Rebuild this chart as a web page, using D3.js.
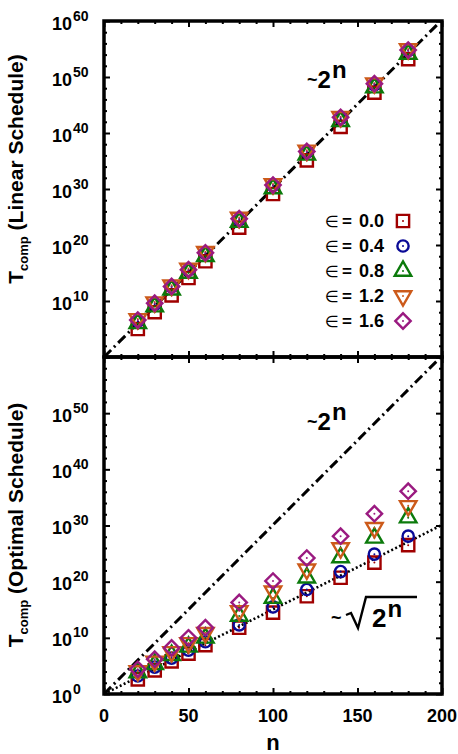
<!doctype html>
<html lang="en">
<head>
<meta charset="utf-8">
<title>T_comp vs n</title>
<script src="https://d3js.org/d3.v7.min.js"></script>
<style>
  body { margin: 0; background: #fff; }
  svg { display: block; font-family: "Liberation Sans", Arial, sans-serif; font-weight: bold; }
</style>
</head>
<body>
<script>
  // problem sizes
  const nValues = [20, 30, 40, 50, 60, 80, 100, 120, 140, 160, 180];
  const epsLabels = ["0.0", "0.4", "0.8", "1.2", "1.6"];

  // log10(T_comp), linear schedule
  const linEps00 = [5.0, 8.0, 11.0, 14.1, 17.1, 23.1, 29.1, 35.1, 41.1, 47.2, 53.2];
  const linEps04 = [6.4, 9.4, 12.5, 15.5, 18.5, 24.5, 30.6, 36.6, 42.6, 48.6, 54.7];
  const linEps08 = [6.0, 9.0, 12.0, 15.0, 18.0, 24.1, 30.1, 36.1, 42.1, 48.1, 54.1];
  const linEps12 = [6.8, 9.8, 12.8, 15.8, 18.8, 24.9, 30.9, 36.9, 42.9, 48.9, 55.0];
  const linEps16 = [6.6, 9.6, 12.6, 15.6, 18.6, 24.7, 30.7, 36.7, 42.8, 48.8, 54.8];

  // log10(T_comp), optimal schedule
  const optEps00 = [2.6, 4.2, 5.8, 7.2, 8.7, 11.8, 14.5, 17.4, 20.7, 23.4, 26.5];
  const optEps04 = [3.2, 4.8, 6.4, 7.8, 9.3, 12.3, 15.5, 18.6, 21.8, 24.9, 28.1];
  const optEps08 = [3.8, 5.3, 6.9, 8.4, 10.0, 13.9, 17.1, 20.7, 24.3, 27.8, 31.4];
  const optEps12 = [4.1, 5.8, 7.5, 9.1, 10.9, 14.8, 18.3, 22.2, 26.0, 29.6, 33.5];
  const optEps16 = [4.4, 6.2, 8.2, 10.0, 11.8, 16.3, 20.1, 24.2, 28.1, 32.1, 36.1];

  const xTicks = [0, 50, 100, 150, 200];
  const topExps = [10, 20, 30, 40, 50, 60];
  const bottomExps = [0, 10, 20, 30, 40, 50];

  const colors = ["#a00000", "#0a0a96", "#0b7a0b", "#cc5a1a", "#9a1a80"];
  const shapes = [
    d3.symbol().type(d3.symbolSquare).size(150),
    d3.symbol().type(d3.symbolCircle).size(100),
    d3.symbol().type(d3.symbolTriangle).size(118),
    d3.symbol().type(d3.symbolTriangle).size(118),
    d3.symbol().type(d3.symbolSquare).size(118)
  ];
  const rotations = [0, 0, 0, 180, 45];

  const width = 458, height = 754;
  const left = 104, right = 442;

  const svg = d3.select("body").append("svg")
      .attr("width", width).attr("height", height);

  const x = d3.scaleLinear().domain([0, 200]).range([left, right]);

  const panels = [
    { y0: 357, y1: 21, exps: topExps, series: [linEps00, linEps04, linEps08, linEps12, linEps16],
      title: "(Linear Schedule)", titleY: 169, sqrtLine: false },
    { y0: 694, y1: 357, exps: bottomExps, series: [optEps00, optEps04, optEps08, optEps12, optEps16],
      title: "(Optimal Schedule)", titleY: 525, sqrtLine: true }
  ];

  function addMarker(g, i, cx, cy) {
    g.append("path")
        .attr("d", shapes[i]())
        .attr("transform", `translate(${cx},${cy}) rotate(${rotations[i]})`)
        .attr("fill", "none")
        .attr("stroke", colors[i])
        .attr("stroke-width", 2.4);
    g.append("circle")
        .attr("cx", cx).attr("cy", cy).attr("r", 1)
        .attr("fill", colors[i]);
  }

  panels.forEach((p, pi) => {
    const y = d3.scaleLog().domain([1, 1e60]).range([p.y0, p.y1]);
    const g = svg.append("g");

    const clipId = "clip" + pi;
    svg.append("clipPath").attr("id", clipId)
      .append("rect")
        .attr("x", left).attr("y", p.y1)
        .attr("width", right - left).attr("height", p.y0 - p.y1);

    // reference curves ~2^n and ~sqrt(2^n)
    const ref = [0, 200];
    const line = d3.line().x(d => x(d[0])).y(d => y(d[1]));
    g.append("path")
        .datum(ref.map(n => [n, Math.pow(2, n)]))
        .attr("d", line)
        .attr("clip-path", `url(#${clipId})`)
        .attr("fill", "none").attr("stroke", "#000")
        .attr("stroke-width", 3)
        .attr("stroke-dasharray", "10,4,2,4");
    if (p.sqrtLine) {
      g.append("path")
          .datum(ref.map(n => [n, Math.pow(2, n / 2)]))
          .attr("d", line)
          .attr("clip-path", `url(#${clipId})`)
          .attr("fill", "none").attr("stroke", "#000")
          .attr("stroke-width", 2.6)
          .attr("stroke-dasharray", "2,2.4");
    }

    // data markers
    p.series.forEach((vals, si) => {
      vals.forEach((v, k) => addMarker(g, si, x(nValues[k]), y(Math.pow(10, v))));
    });

    // ticks on all four sides, pointing inward
    const majorY = d3.range(0, 61, 10).map(e => Math.pow(10, e));
    const minorY = d3.range(0, 61, 2).filter(e => e % 10 !== 0).map(e => Math.pow(10, e));
    const minorX = d3.range(0, 201, 10).filter(v => v % 50 !== 0);
    const tickStyle = sel => {
      sel.select(".domain").remove();
      sel.selectAll("line").attr("stroke", "#000").attr("stroke-width", 2);
    };
    g.append("g").attr("transform", `translate(0,${p.y0})`)
        .call(d3.axisBottom(x).tickValues(xTicks).tickSize(-6).tickFormat("")).call(tickStyle);
    g.append("g").attr("transform", `translate(0,${p.y0})`)
        .call(d3.axisBottom(x).tickValues(minorX).tickSize(-3).tickFormat("")).call(tickStyle);
    g.append("g").attr("transform", `translate(0,${p.y1})`)
        .call(d3.axisTop(x).tickValues(xTicks).tickSize(-6).tickFormat("")).call(tickStyle);
    g.append("g").attr("transform", `translate(0,${p.y1})`)
        .call(d3.axisTop(x).tickValues(minorX).tickSize(-3).tickFormat("")).call(tickStyle);
    g.append("g").attr("transform", `translate(${left},0)`)
        .call(d3.axisLeft(y).tickValues(majorY).tickSize(-6).tickFormat("")).call(tickStyle);
    g.append("g").attr("transform", `translate(${left},0)`)
        .call(d3.axisLeft(y).tickValues(minorY).tickSize(-3).tickFormat("")).call(tickStyle);
    g.append("g").attr("transform", `translate(${right},0)`)
        .call(d3.axisRight(y).tickValues(majorY).tickSize(-6).tickFormat("")).call(tickStyle);
    g.append("g").attr("transform", `translate(${right},0)`)
        .call(d3.axisRight(y).tickValues(minorY).tickSize(-3).tickFormat("")).call(tickStyle);

    // frame
    g.append("rect")
        .attr("x", left).attr("y", p.y1)
        .attr("width", right - left).attr("height", p.y0 - p.y1)
        .attr("fill", "none").attr("stroke", "#000").attr("stroke-width", 3.5);

    // y tick labels 10^k
    p.exps.forEach(e => {
      const t = g.append("text")
          .attr("x", 52).attr("y", y(Math.pow(10, e)) + 8.5)
          .attr("font-size", 18).attr("fill", "#000");
      t.append("tspan").text("10");
      t.append("tspan").attr("font-size", 14).attr("dx", 1).attr("dy", -9).text(e);
    });

    // y axis title
    const yt = g.append("text")
        .attr("transform", `translate(23,${p.titleY}) rotate(-90)`)
        .attr("text-anchor", "middle").attr("font-size", 21).attr("fill", "#000");
    yt.append("tspan").text("T");
    yt.append("tspan").attr("font-size", 13).attr("dy", 5).text("comp");
    yt.append("tspan").attr("dy", -5).text("\u00a0" + p.title);

    // ~2^n annotation
    const a = g.append("text")
        .attr("x", 307).attr("y", p.y1 + (pi === 0 ? 67 : 73)).attr("fill", "#000");
    a.append("tspan").attr("font-size", 18).attr("dy", -2).text("~");
    a.append("tspan").attr("font-size", 24).attr("dy", 2).text("2");
    a.append("tspan").attr("font-size", 24).attr("dy", -10).attr("dx", 1).text("n");

    if (p.sqrtLine) {
      g.append("text").attr("x", 331).attr("y", 624)
          .attr("font-size", 18).attr("fill", "#000").text("~");
      g.append("path")
          .attr("d", "M346,615 L351,613 L358,628 L366,597 L417,597")
          .attr("fill", "none").attr("stroke", "#000").attr("stroke-width", 2.4);
      const s = g.append("text").attr("x", 372).attr("y", 627).attr("fill", "#000");
      s.append("tspan").attr("font-size", 26).text("2");
      s.append("tspan").attr("font-size", 24).attr("dy", -10).attr("dx", 1).text("n");
    }
  });

  // x tick labels and title
  xTicks.forEach(v => {
    svg.append("text")
        .attr("x", x(v)).attr("y", 722)
        .attr("text-anchor", "middle").attr("font-size", 18).text(v);
  });
  svg.append("text").attr("x", x(100)).attr("y", 750)
      .attr("text-anchor", "middle").attr("font-size", 22).text("n");

  // legend
  const leg = svg.append("g");
  epsLabels.forEach((lab, i) => {
    const cy = 221 + i * 25;
    leg.append("text")
        .attr("x", 325).attr("y", cy + 6)
        .attr("font-family", "DejaVu Sans").attr("font-weight", "normal")
        .attr("font-size", 16).text("\u2208");
    leg.append("text")
        .attr("x", 342).attr("y", cy + 6)
        .attr("font-size", 17).text("=");
    leg.append("text")
        .attr("x", 384).attr("y", cy + 6)
        .attr("text-anchor", "end").attr("font-size", 18)
        .text(lab);
    addMarker(leg, i, 403, cy);
  });
</script>
</body>
</html>
